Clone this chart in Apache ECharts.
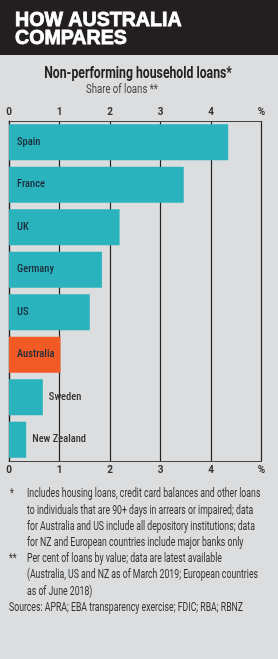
<!DOCTYPE html>
<html><head><meta charset="utf-8">
<script src="https://cdn.jsdelivr.net/npm/echarts@6/dist/echarts.min.js"></script>
<style>html,body{margin:0;padding:0;background:#dcdddf;}#c{width:278px;height:659px;}</style>
</head><body><div id="c"></div>
<script>
var categories = ['Spain','France','UK','Germany','US','Australia','Sweden','New Zealand'];
var values = [4.34, 3.46, 2.19, 1.84, 1.60, 1.02, 0.67, 0.34];
var tickLabels = ['0','1','2','3','4','%'];
var titleLines = ['HOW AUSTRALIA','COMPARES'];
var subtitle = 'Non-performing household loans*';
var unitNote = 'Share of loans **';
var footnotes = [
 ['*','Includes housing loans, credit card balances and other loans'],
 ['','to individuals that are 90+ days in arrears or impaired; data'],
 ['','for Australia and US include all depository institutions; data'],
 ['','for NZ and European countries include major banks only'],
 ['**','Per cent of loans by value; data are latest available'],
 ['','(Australia, US and NZ as of March 2019; European countries'],
 ['','as of June 2018)']
];
var sourceText = 'Sources: APRA; EBA transparency exercise; FDIC; RBA; RBNZ';

var TEAL = '#2bb3bd', ORANGE = '#f15a24', DARK = '#222';
var FONT = 'Roboto, "Liberation Sans", sans-serif';
var chart = echarts.init(document.getElementById('c'));

var g = [
  {type:'rect', shape:{x:0,y:0,width:278,height:55}, style:{fill:'#231f20'}},
  {type:'text', x:15, y:20, scaleX:0.98, style:{text:titleLines[0], font:'bold 20px "Liberation Sans", Arial, sans-serif', fill:'#fff', stroke:'#fff', lineWidth:0.8, textVerticalAlign:'middle'}},
  {type:'text', x:15, y:38, scaleX:0.98, style:{text:titleLines[1], font:'bold 20px "Liberation Sans", Arial, sans-serif', fill:'#fff', stroke:'#fff', lineWidth:0.8, textVerticalAlign:'middle'}},
  {type:'text', x:138, y:74, scaleX:0.72, style:{text:subtitle, font:'bold 17px '+FONT, fill:'#222', textAlign:'center', textVerticalAlign:'middle'}},
  {type:'text', x:122, y:90, scaleX:0.8, style:{text:unitNote, font:'12px '+FONT, fill:'#444', textAlign:'center', textVerticalAlign:'middle'}}
];
var y0 = 494, lh = 16.2, fs = 0.645;
footnotes.forEach(function(f, i){
  var y = y0 + i*lh;
  if (f[0]) g.push({type:'text', x:f[0]==='*'?10:9, y:y, scaleX:fs, style:{text:f[0], font:'13.5px '+FONT, fill:'#333', textVerticalAlign:'middle'}});
  g.push({type:'text', x:27, y:y, scaleX:fs, style:{text:f[1], font:'13.5px '+FONT, fill:'#333', textVerticalAlign:'middle'}});
});
g.push({type:'text', x:9, y:y0+footnotes.length*lh, scaleX:fs, style:{text:sourceText, font:'13.5px '+FONT, fill:'#333', textVerticalAlign:'middle'}});

function xAxisCfg(pos){
  return {
    type:'value', position:pos, min:0, max:5, interval:1,
    axisLine:{show:true, onZero:false, lineStyle:{color:'#444', width:1.2}},
    axisTick:{show:false},
    splitLine:{show:pos==='top', lineStyle:{color:DARK, width:1.2}},
    axisLabel:{show:true, margin:4, color:'#333', fontSize:10, fontWeight:'bold', fontFamily:FONT,
      formatter:function(v){ return tickLabels[Math.round(v)]; }}
  };
}

chart.setOption({
  backgroundColor:'#dcdddf',
  animation:false,
  graphic:g,
  grid:{left:9, right:16.5, top:121, bottom:198, containLabel:false},
  xAxis:[xAxisCfg('top'), xAxisCfg('bottom')],
  yAxis:{type:'category', data:categories, inverse:true,
    axisLine:{show:true, lineStyle:{color:DARK, width:1.2}}, axisTick:{show:false}, axisLabel:{show:false}, splitLine:{show:false}},
  series:[{
    type:'bar', xAxisIndex:0, barCategoryGap:'15%',
    data: values.map(function(v, i){
      var small = v < 0.8;
      return {value:v, itemStyle:{color: categories[i]==='Australia'?ORANGE:TEAL},
        label:{position: small?'right':'insideLeft', distance: small?6:8, color: small?'#333':'#1b2d3b'}};
    }),
    label:{show:true, formatter:function(p){return p.name;}, fontSize:10.5, fontWeight:500, fontFamily:'"Liberation Sans Narrow", "Roboto Condensed", Roboto, sans-serif'}
  }]
});
</script></body></html>
